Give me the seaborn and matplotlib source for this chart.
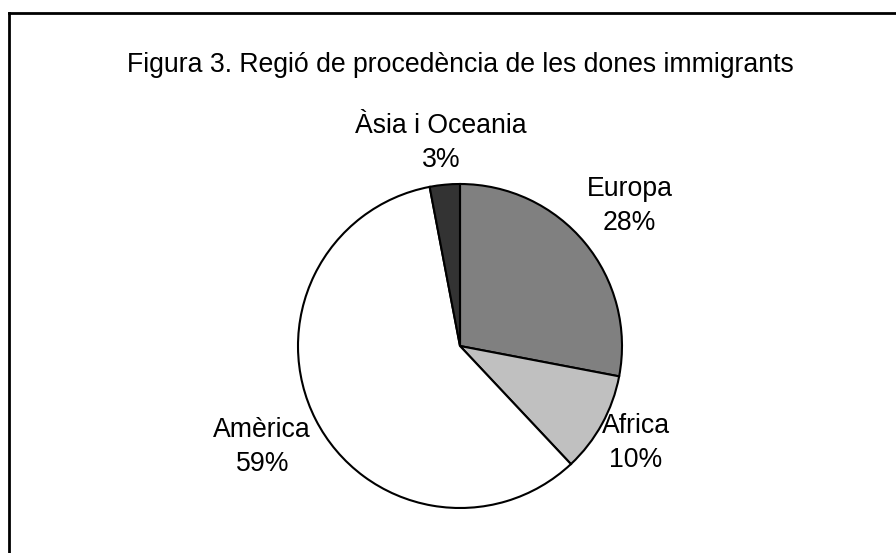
import numpy as np
import matplotlib
matplotlib.use("Agg")
import matplotlib.pyplot as plt
import seaborn as sns
from matplotlib.lines import Line2D

sns.set_theme(style="white")
plt.rcParams['font.family'] = ['Liberation Sans', 'DejaVu Sans']

regions = ["Europa", "Africa", "Amèrica", "Àsia i Oceania"]
values = [28, 10, 59, 3]
colors = ["#808080", "#c0c0c0", "#ffffff", "#333333"]
title = "Figura 3. Regió de procedència de les dones immigrants"

W, H = 896, 553
fig = plt.figure(figsize=(W / 100, H / 100), dpi=100)
fig.patch.set_facecolor("white")

cx, cy, r = 460, 346, 162
ax = fig.add_axes([(cx - r) / W, (H - cy - r) / H, 2 * r / W, 2 * r / H])
wedges, _ = ax.pie(values, colors=colors, startangle=90, counterclock=False,
                   wedgeprops=dict(edgecolor="black", linewidth=1.5))
ax.set_xlim(-1, 1)
ax.set_ylim(-1, 1)
ax.set_aspect("equal")
ax.axis("off")

dist = [1.36, 1.24, 1.37, 1.26]
for w, name, v, d in zip(wedges, regions, values, dist):
    ang = np.deg2rad((w.theta1 + w.theta2) / 2)
    ax.text(d * np.cos(ang), d * np.sin(ang), f"{name}\n{v}%",
            ha="center", va="center", fontsize=19.2, linespacing=1.4,
            color="black", clip_on=False)

fig.text(460 / W, 1 - 65 / H, title, ha="center", va="center", fontsize=19.2, color="black")

# frame (left and top visible)
fig.add_artist(Line2D([8.5 / W, 8.5 / W], [0, 1 - 12.5 / H], transform=fig.transFigure,
                      color="black", linewidth=2, solid_capstyle="projecting"))
fig.add_artist(Line2D([8.5 / W, 1], [1 - 12.5 / H, 1 - 12.5 / H], transform=fig.transFigure,
                      color="black", linewidth=2, solid_capstyle="projecting"))

fig.savefig("out.png", dpi=100, facecolor="white")
